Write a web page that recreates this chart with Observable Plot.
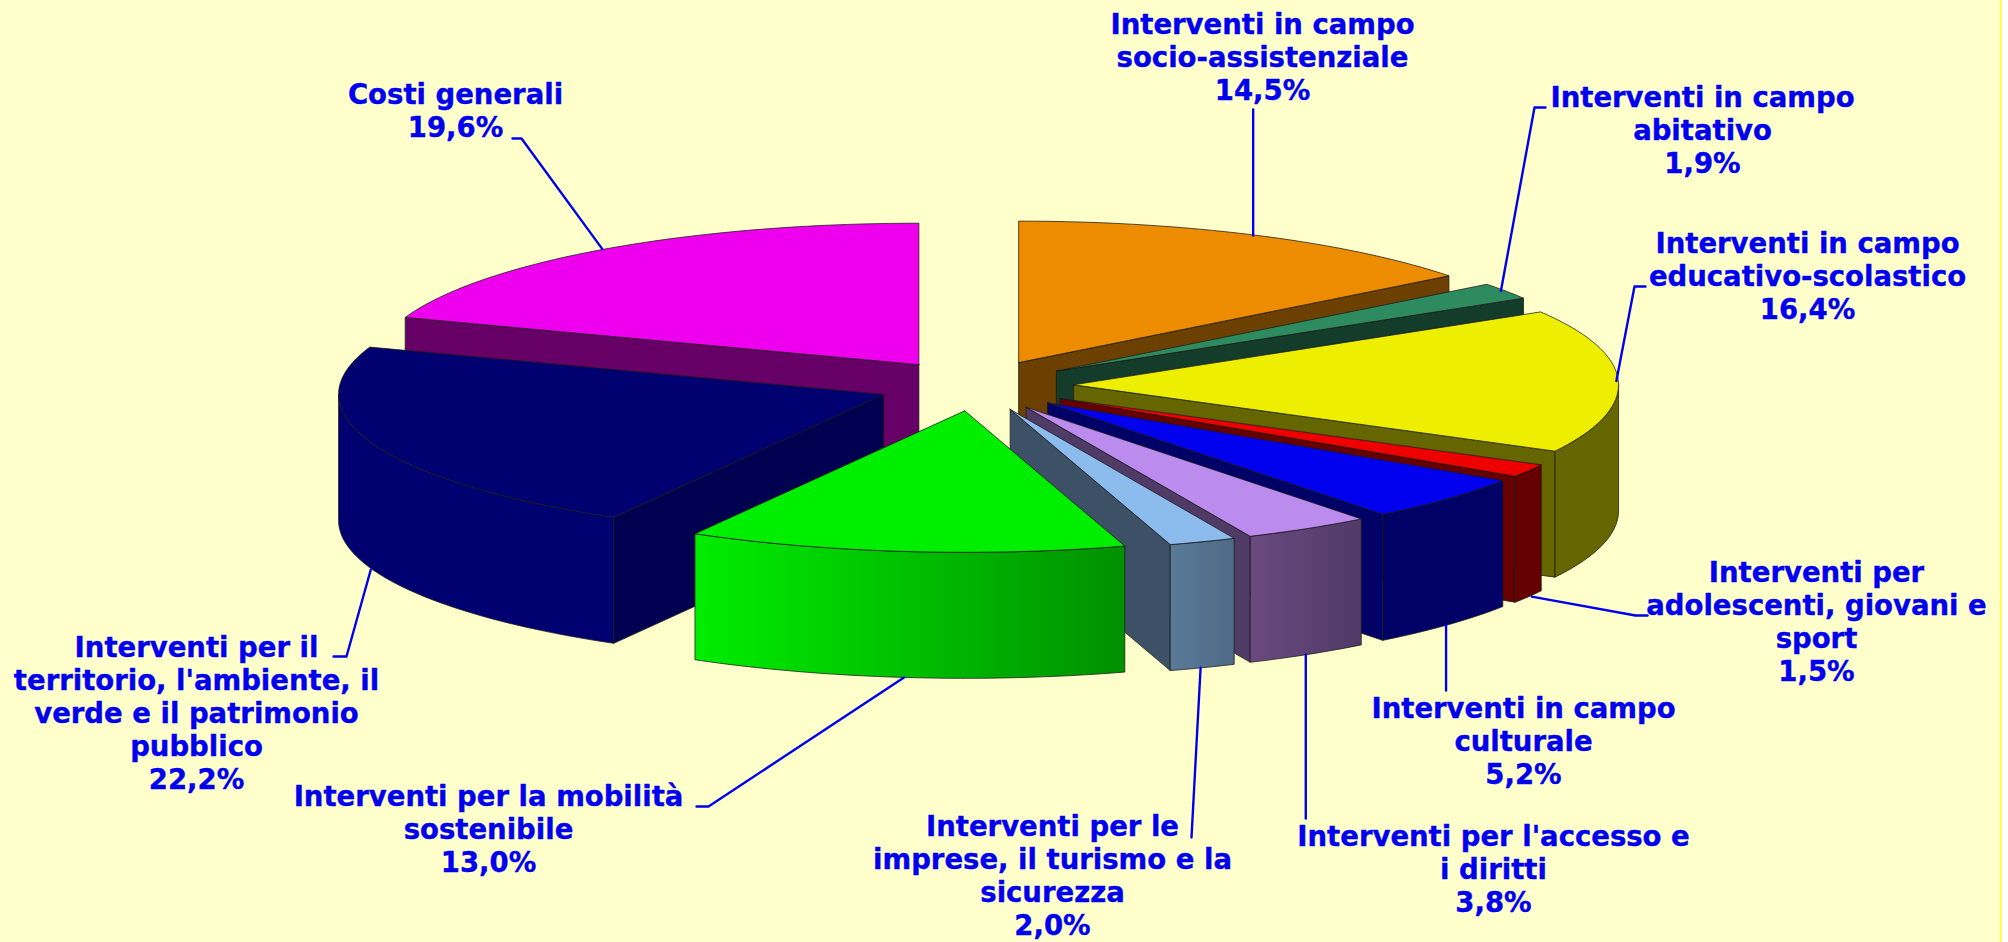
<!DOCTYPE html>
<html>
<head>
<meta charset="utf-8">
<script src="https://cdn.jsdelivr.net/npm/d3@7"></script>
<script src="https://cdn.jsdelivr.net/npm/@observablehq/plot@0.6"></script>
<style>
  html, body { margin: 0; padding: 0; background: #ffffff; overflow: hidden; }
  svg { display: block; }
</style>
</head>
<body>
<div id="chart"></div>
<script>
// Data, clockwise from twelve o'clock
const categories = [
  "Interventi in campo\nsocio-assistenziale",
  "Interventi in campo\nabitativo",
  "Interventi in campo\neducativo-scolastico",
  "Interventi per\nadolescenti, giovani e\nsport",
  "Interventi in campo\nculturale",
  "Interventi per l'accesso e\ni diritti",
  "Interventi per le\nimprese, il turismo e la\nsicurezza",
  "Interventi per la mobilità\nsostenibile",
  "Interventi per il\nterritorio, l'ambiente, il\nverde e il patrimonio\npubblico",
  "Costi generali"
];
const values = [14.5, 1.9, 16.4, 1.5, 5.2, 3.8, 2.0, 13.0, 22.2, 19.6];

// Colours per slice
const topColors  = ["#ee8c00", "#2e8b60", "#eeee00", "#ee0000", "#0000ee", "#bb8bee", "#8cbbee", "#00ee00", "#000070", "#ee00ee"];
const wallColors = ["#6b4000", "#143c2a", "#666600", "#660000", "#000066", "#503a66", "#3c5066", "#009000", "#000050", "#660066"];
const rimStops   = [
  ["#6b4000", "#6b4000"], ["#143c2a", "#143c2a"], ["#666600", "#666600"], ["#660000", "#660000"], ["#000066", "#000066"],
  ["#6a4a80", "#503a66"], ["#5a7a98", "#4e6a86"], ["#00ee00", "#009000"], ["#000070", "#000070"], ["#660066", "#660066"]
];

// Layout of the 3D pie
const pie = {cx: 975, cy: 385, rx: 545, ry: 141.5, depth: 126, explode: 0.18};
const lineHeightPx = 33;
const fontPx = 27.5;
// Label centre (x, first line y) and leader waypoints after the rim anchor
const labelAt = [[1262, 20], [1702, 93], [1807, 239], [1816, 568], [1523, 704], [1493, 832], [1052, 822], [488, 792], [196, 643], [455, 90]];
const leaderNudge = [-5, -5, -2, 3, -2, -2, -2, -1, -2, -2];
const leaderVia = [
  [[null, 109]],
  [[1534, 107], [1545, 107]],
  [[1634, 286], [1645, 286]],
  [[1635, 615], [1647, 615]],
  [[null, 690]],
  [[null, 818]],
  [[1191, 837]],
  [[708, 806], [696, 806]],
  [[346, 656], [333, 656]],
  [[521, 138], [512, 138]]
];
// Frame at the right edge of the picture
const frameEdge = [2000.6];

const total = d3.sum(values);
const rad = d => d * Math.PI / 180;
const cum = d3.cumsum(values);
const slices = values.map((v, i) => {
  const a0 = (i ? cum[i - 1] : 0) / total * 360, a1 = cum[i] / total * 360, mid = (a0 + a1) / 2;
  const ax = pie.cx + pie.explode * pie.rx * Math.sin(rad(mid));
  const ay = pie.cy - pie.explode * pie.ry * Math.cos(rad(mid));
  return {i, a0, a1, mid, ax, ay};
});
const rimPoint = (s, a, dz = 0) => ({x: s.ax + pie.rx * Math.sin(rad(a)), y: s.ay - pie.ry * Math.cos(rad(a)) + dz});
const arc = (s, a, b, dz = 0) => {
  const n = Math.max(2, Math.ceil(Math.abs(b - a) / 1.5));
  return d3.range(n + 1).map(k => rimPoint(s, a + (b - a) * k / n, dz));
};
const close = pts => [...pts, pts[0]];

const outline = {x: "x", y: "y", stroke: "#1a1a1a", strokeOpacity: 0.75, strokeWidth: 1};
const face = (pts, fill) => Plot.line(close(pts), {...outline, fill});

const faces = [];
// painter's order: back to front by apex height
for (const s of d3.sort(slices, d => d.ay)) {
  const apex = {x: s.ax, y: s.ay}, apexLow = {x: s.ax, y: s.ay + pie.depth};
  const wall = a => face([apex, rimPoint(s, a), rimPoint(s, a, pie.depth), apexLow], wallColors[s.i]);
  if (Math.sin(rad(s.a1)) > 1e-6) faces.push(wall(s.a1));
  if (Math.sin(rad(s.a0)) < -1e-6) faces.push(wall(s.a0));
  const r0 = Math.max(s.a0, 90), r1 = Math.min(s.a1, 270);
  if (r1 > r0) faces.push(face([...arc(s, r0, r1), ...arc(s, r1, r0, pie.depth)], `url(#rim${s.i})`));
  faces.push(face([apex, ...arc(s, s.a0, s.a1)], topColors[s.i]));
}

// Leaders start at the middle of the slice's visible outer edge
const leaders = slices.flatMap(s => {
  const front = Math.cos(rad(s.mid)) < 0;
  const rim = rimPoint(s, s.mid, front ? pie.depth : 0);
  const start = {x: rim.x + leaderNudge[s.i], y: rim.y};
  const pts = [start, ...leaderVia[s.i].map(([x, y]) => ({x: x ?? start.x, y}))];
  return pts.map(p => ({...p, id: s.i}));
});

const labels = slices.map(s => ({
  x: labelAt[s.i][0],
  y: labelAt[s.i][1] - 0.35 * fontPx,
  text: `${categories[s.i]}\n${values[s.i].toFixed(1).replace(".", ",")}%`
}));

const gradients = () => {
  const defs = d3.create("svg:defs");
  rimStops.forEach(([a, b], i) => {
    const g = defs.append("linearGradient").attr("id", `rim${i}`);
    g.append("stop").attr("offset", "0%").attr("stop-color", a);
    g.append("stop").attr("offset", "100%").attr("stop-color", b);
  });
  return defs.node();
};

const chart = Plot.plot({
  width: 2008,
  height: 942,
  margin: 0,
  x: {domain: [0, 2008], range: [0, 2008], axis: null},
  y: {domain: [0, 942], range: [0, 942], axis: null},
  style: {background: "#ffffcc", overflow: "visible"},
  marks: [
    gradients,
    Plot.rectX(frameEdge, {x1: d => d, x2: () => 2008, y1: () => 0, y2: () => 942, fill: "#ffffff"}),
    Plot.ruleX(frameEdge, {stroke: "#ffff00", strokeWidth: 1.3}),
    ...faces,
    Plot.line(leaders, {x: "x", y: "y", z: "id", stroke: "#0000ee", strokeWidth: 2.4}),
    Plot.text(labels, {
      x: "x", y: "y", text: "text",
      fill: "#0000ee",
      stroke: "#0000ee",
      strokeWidth: 0.4,
      fontFamily: "DejaVu Sans",
      fontWeight: "bold",
      fontSize: fontPx,
      lineHeight: lineHeightPx / fontPx,
      lineAnchor: "top",
      textAnchor: "middle"
    })
  ]
});
document.getElementById("chart").append(chart);
</script>
</body>
</html>
